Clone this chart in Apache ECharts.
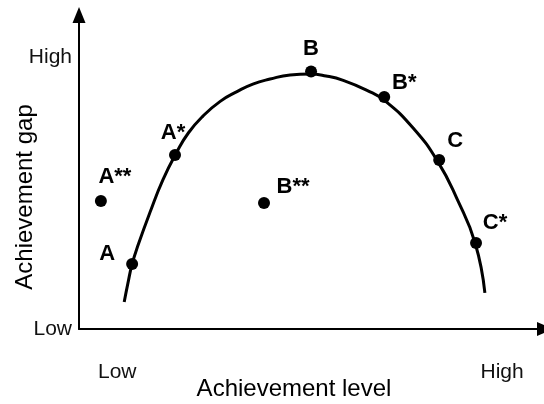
<!DOCTYPE html>
<html>
<head>
<meta charset="utf-8">
<script src="https://cdn.jsdelivr.net/npm/echarts@6/dist/echarts.min.js"></script>
<style>
  html, body { margin: 0; padding: 0; background: #fff; }
  #chart { width: 544px; height: 404px; }
</style>
</head>
<body>
<div id="chart"></div>
<script>
  // 曲线上的点（0-100 的相对坐标）
  var curveX = [9.7, 10.5, 11.4, 12.7, 15.2, 18.0, 21.0, 23.5, 26.6, 30.3, 33.9, 37.3, 41.0, 45.3, 49.6, 53.0, 56.7, 61.8, 65.7, 71.7, 77.0, 81.1, 85.0, 87.1];
  var curveY = [8.6, 14.6, 20.7, 26.8, 37.0, 47.5, 56.4, 62.5, 67.8, 72.5, 75.6, 78.0, 79.6, 80.9, 81.2, 80.6, 79.2, 76.0, 72.6, 64.0, 53.3, 41.5, 27.4, 11.5];

  // 各个点
  var pointNames = ['A', 'A**', 'A*', 'B', 'B*', 'C', 'B**', 'C*'];
  var pointX = [11.4, 4.7, 20.6, 49.8, 65.5, 77.3, 39.7, 85.2];
  var pointY = [20.7, 40.8, 55.4, 82.0, 73.9, 53.8, 40.1, 27.4];

  // 刻度文字
  var xTickValues = [8.2, 90.8];
  var xTickLabels = ['Low', 'High'];
  var yTickValues = [0, 86.6];
  var yTickLabels = ['Low', 'High'];

  // 标签相对点的偏移
  var labelOffsets = [[-25, -10], [14, -24], [-2, -22], [0, -23], [20, -14], [16, -19], [29, -16], [19, -20]];

  var font = 'Liberation Sans, Arial, sans-serif';

  var chart = echarts.init(document.getElementById('chart'));

  var curveData = curveX.map(function (x, i) { return [x, curveY[i]]; });
  var pointData = pointNames.map(function (n, i) {
    return {
      name: n,
      value: [pointX[i], pointY[i]],
      label: { offset: labelOffsets[i] }
    };
  });

  var option = {
    animation: false,
    grid: { left: 79, right: -1, top: 15, bottom: 75, outerBoundsMode: 'none', containLabel: false },
    xAxis: {
      type: 'value',
      min: 0,
      max: 100,
      name: 'Achievement level',
      nameLocation: 'middle',
      nameGap: 48,
      nameMoveOverlap: false,
      nameTextStyle: { fontFamily: font, fontSize: 24, color: '#000', padding: [0, 36, 0, 0] },
      splitLine: { show: false },
      axisTick: { show: false },
      axisLine: {
        symbol: ['none', 'triangle'],
        symbolSize: [14, 16],
        lineStyle: { color: '#000', width: 2 }
      },
      axisLabel: {
        customValues: xTickValues,
        margin: 33,
        fontFamily: font,
        fontSize: 21,
        color: '#111',
        formatter: function (v) {
          var i = xTickValues.indexOf(v);
          return i >= 0 ? xTickLabels[i] : '';
        }
      }
    },
    yAxis: {
      type: 'value',
      min: 0,
      max: 100,
      name: 'Achievement gap',
      nameLocation: 'middle',
      nameGap: 42,
      nameMoveOverlap: false,
      nameTextStyle: { fontFamily: font, fontSize: 24, color: '#000', padding: [0, 50, 0, 0] },
      splitLine: { show: false },
      axisTick: { show: false },
      axisLine: {
        symbol: ['none', 'triangle'],
        symbolSize: [13, 16],
        lineStyle: { color: '#000', width: 2 }
      },
      axisLabel: {
        customValues: yTickValues,
        margin: 7,
        fontFamily: font,
        fontSize: 21,
        color: '#111',
        formatter: function (v) {
          var i = yTickValues.indexOf(v);
          return i >= 0 ? yTickLabels[i] : '';
        }
      }
    },
    series: [
      {
        type: 'line',
        data: curveData,
        smooth: 0.5,
        showSymbol: false,
        lineStyle: { color: '#000', width: 3 },
        z: 2
      },
      {
        type: 'scatter',
        data: pointData,
        symbol: 'circle',
        symbolSize: 12,
        itemStyle: { color: '#000', opacity: 1 },
        label: {
          show: true,
          position: 'inside',
          formatter: '{b}',
          fontFamily: font,
          fontWeight: 'bold',
          fontSize: 22,
          color: '#000'
        },
        z: 3
      }
    ]
  };

  chart.setOption(option);
</script>
</body>
</html>
